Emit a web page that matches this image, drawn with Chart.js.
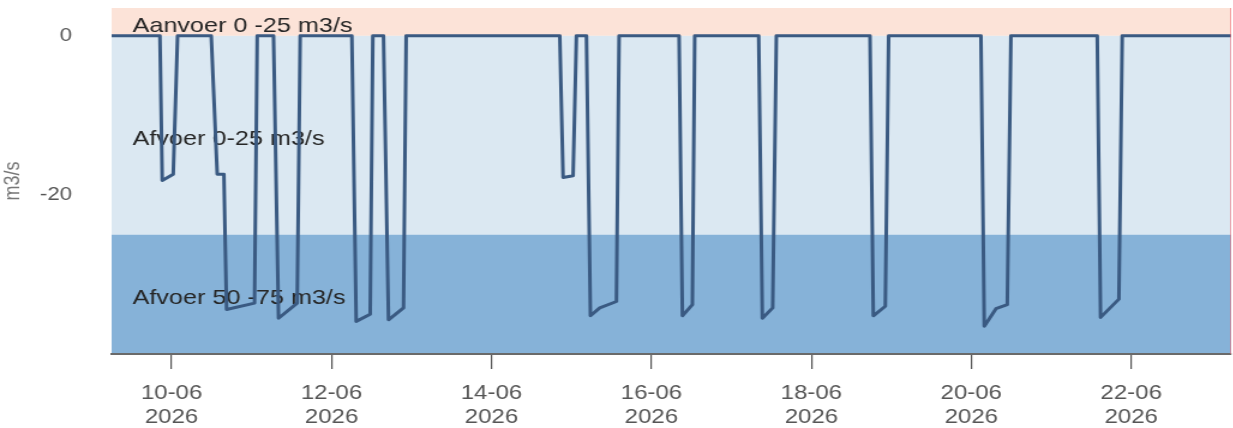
<!DOCTYPE html>
<html>
<head>
<meta charset="utf-8">
<script src="https://cdn.jsdelivr.net/npm/chart.js@4.4.1/dist/chart.umd.min.js"></script>
<style>
  html, body { margin: 0; padding: 0; background: #ffffff; overflow: hidden; }
  #wrap { position: absolute; left: 0; top: 0; width: 1028px; height: 428px; transform: scaleX(1.2); transform-origin: 0 0; }
</style>
</head>
<body>
<div id="wrap"><canvas id="c"></canvas></div>
<script>
// ---- data (hours relative to 10-06-2026 00:00) ----
const hours = [-18, -3.5, -2.8, 0.5, 1.8,
  11.9, 13.7, 15.7, 16.5, 24.9, 25.7,
  30.6, 32.1, 37.7, 38.6,
  54.1, 55.4, 59.6, 60.4,
  63.6, 65.1, 69.6, 70.4,
  116.5, 117.5, 120.5, 121.5,
  124.5, 125.7, 128.5, 133.5, 134.3,
  152.3, 153.3, 156.3, 157,
  176.2, 177.3, 180.4, 181.5,
  209.6, 210.6, 214.2, 215.2,
  242.9, 243.9, 247.4, 250.8, 251.9,
  277.8, 278.8, 284.3, 285.3,
  318];
const flow = [0, 0, -18.2, -17.4, 0,
  0, -17.4, -17.4, -34.4, -33.6, 0,
  0, -35.5, -33.6, 0,
  0, -35.9, -35.0, 0,
  0, -35.7, -34.2, 0,
  0, -17.8, -17.6, 0,
  0, -35.2, -34.2, -33.4, 0,
  0, -35.2, -33.8, 0,
  0, -35.5, -34.2, 0,
  0, -35.2, -34.0, 0,
  0, -36.5, -34.3, -33.8, 0,
  0, -35.4, -33.1, 0,
  0];

const xMin = -18, xMax = 318;
const xTickHours = [0, 48, 96, 144, 192, 240, 288];
const xTickDays = ['10-06', '12-06', '14-06', '16-06', '18-06', '20-06', '22-06'];
const xTickYears = ['2026', '2026', '2026', '2026', '2026', '2026', '2026'];
const yMin = -40, yMax = 3.5;
const yTickValues = [0, -20];

const bandLow = [0, -25, -50];
const bandHigh = [25, 0, -25];
const bandLabels = ['Aanvoer 0 -25 m3/s', 'Afvoer 0-25 m3/s', 'Afvoer 50 -75 m3/s'];
const markerHour = 318;

// ---- styles ----
const FONT = '"Liberation Sans", Arial, sans-serif';
const bandColors = ['#fce3d8', '#dbe8f2', '#86b2d8'];

const bandsPlugin = {
  id: 'bands',
  beforeDraw(chart) {
    const {ctx, chartArea: a, scales: {y}} = chart;
    ctx.save();
    for (let i = 0; i < bandLow.length; i++) {
      const top = Math.max(a.top, y.getPixelForValue(bandHigh[i]));
      const bot = Math.min(a.bottom, y.getPixelForValue(bandLow[i]));
      if (bot <= top) continue;
      ctx.fillStyle = bandColors[i];
      ctx.fillRect(a.left, top, a.right - a.left, bot - top);
    }
    ctx.restore();
  },
  beforeDatasetsDraw(chart) {
    const {ctx, chartArea: a, scales: {y}} = chart;
    ctx.save();
    ctx.font = '21px ' + FONT;
    ctx.fillStyle = '#262626';
    ctx.textAlign = 'left';
    ctx.textBaseline = 'alphabetic';
    for (let i = 0; i < bandLow.length; i++) {
      const top = Math.max(a.top, y.getPixelForValue(bandHigh[i]));
      const bot = Math.min(a.bottom, y.getPixelForValue(bandLow[i]));
      ctx.fillText(bandLabels[i], a.left + 17.5, (top + bot) / 2 + 10);
    }
    ctx.restore();
  },
  afterDatasetsDraw(chart) {
    const {ctx, chartArea: a, scales: {x}} = chart;
    const px = Math.min(x.getPixelForValue(markerHour), a.right - 0.5);
    ctx.save();
    ctx.strokeStyle = 'rgba(240,110,120,0.6)';
    ctx.lineWidth = 1;
    ctx.beginPath();
    ctx.moveTo(px, a.top);
    ctx.lineTo(px, a.bottom);
    ctx.stroke();
    ctx.restore();
  }
};

new Chart(document.getElementById('c'), {
  type: 'line',
  data: {
    datasets: [{
      label: 'Debiet',
      data: hours.map((h, i) => ({x: h, y: flow[i]})),
      borderColor: '#3a5a82',
      borderWidth: 3,
      pointRadius: 0,
      tension: 0,
      borderJoinStyle: 'round',
      fill: false
    }]
  },
  options: {
    responsive: true,
    maintainAspectRatio: false,
    animation: false,
    layout: {padding: {top: 8, right: 2, left: 0, bottom: 0}},
    plugins: {legend: {display: false}, tooltip: {enabled: false}},
    scales: {
      x: {
        type: 'linear',
        min: xMin,
        max: xMax,
        afterBuildTicks: s => { s.ticks = xTickHours.map(v => ({value: v})); },
        afterFit: s => { s.height = 74; s.paddingLeft = 0; s.paddingRight = 0; },
        grid: {display: true, drawOnChartArea: false, drawTicks: true, tickLength: 15, color: '#555', lineWidth: 1.2},
        border: {display: true, color: '#6a6a6a', width: 2},
        ticks: {
          autoSkip: false, maxRotation: 0, padding: 12, color: '#555',
          font: {family: FONT, size: 20, lineHeight: 1.2},
          callback: v => { const i = xTickHours.indexOf(v); return i >= 0 ? [xTickDays[i], xTickYears[i]] : ''; }
        }
      },
      y: {
        min: yMin,
        max: yMax,
        afterBuildTicks: s => { s.ticks = yTickValues.map(v => ({value: v})); },
        afterFit: s => { s.width = 93; s.paddingTop = 0; s.paddingBottom = 0; },
        grid: {display: false},
        border: {display: false},
        ticks: {padding: 25, color: '#555', font: {family: FONT, size: 18.5}},
        title: {display: true, text: 'm3/s', color: '#777', font: {family: FONT, size: 18}, padding: {top: 0, bottom: 0}}
      }
    }
  },
  plugins: [bandsPlugin]
});
</script>
</body>
</html>
